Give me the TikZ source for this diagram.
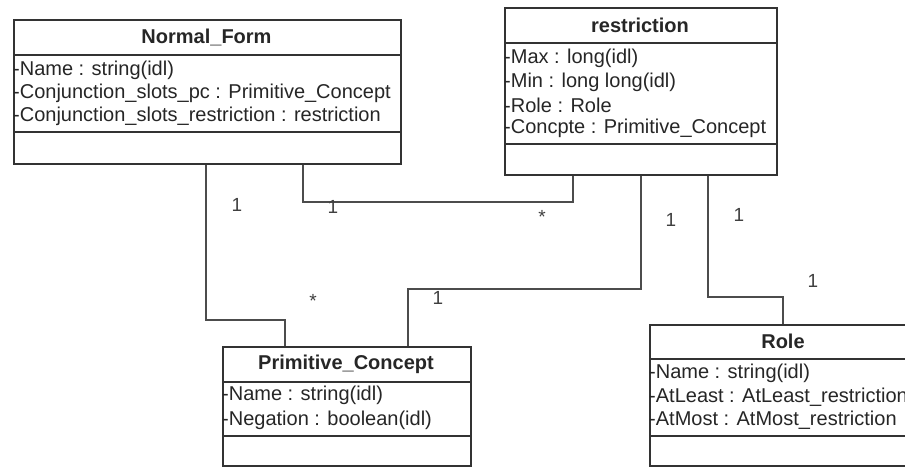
\documentclass[tikz,border=0pt]{standalone}
\usepackage{fontspec}
\setmainfont{Liberation Sans}
\tikzset{
  classbox/.style={draw=black!80, line width=1.5pt, rectangle, inner sep=0pt, anchor=north west},
  sepline/.style={draw=black!80, line width=1.5pt},
  conn/.style={draw=black!70, line width=1.5pt},
  ctitle/.style={font=\bfseries\fontsize{20}{23}\selectfont, text=black!85, inner sep=0pt},
  attr/.style={font=\fontsize{20}{23}\selectfont, text=black!85, inner sep=0pt, anchor=west},
  mult/.style={font=\fontsize{19}{22}\selectfont, text=black!75, inner sep=0pt},
}
\begin{document}
\begin{tikzpicture}[x=1pt, y=-1pt]
\useasboundingbox (0,0) rectangle (905,467);
\clip (0,0) rectangle (905,467);
\fill[white] (0,0) rectangle (905,467);

% Normal_Form
\node[classbox, minimum width=387pt, minimum height=144pt] (nf) at (13,19) {};
\draw[sepline] (nf.west |- 0,55) -- (nf.east |- 0,55);
\draw[sepline] (nf.west |- 0,132) -- (nf.east |- 0,132);
\node[ctitle] (nft) at (206.5,37) {Normal\_Form};
\node[attr] (nfa1) at (13,70) {-Name : string(idl)};
\node[attr] (nfa2) at (13,93) {-Conjunction\_slots\_pc : Primitive\_Concept};
\node[attr] (nfa3) at (13,116) {-Conjunction\_slots\_restriction : restriction};

% restriction
\node[classbox, minimum width=272pt, minimum height=167pt] (rs) at (504,7) {};
\draw[sepline] (rs.west |- 0,43) -- (rs.east |- 0,43);
\draw[sepline] (rs.west |- 0,144) -- (rs.east |- 0,144);
\node[ctitle] (rst) at (640,25) {restriction};
\node[attr] (rsa1) at (504,58.5) {-Max : long(idl)};
\node[attr] (rsa2) at (504,82) {-Min : long long(idl)};
\node[attr] (rsa3) at (504,105) {-Role : Role};
\node[attr] (rsa4) at (504,128) {-Concpte : Primitive\_Concept};

% Primitive_Concept
\node[classbox, minimum width=248pt, minimum height=119pt] (pc) at (222,346) {};
\draw[sepline] (pc.west |- 0,382) -- (pc.east |- 0,382);
\draw[sepline] (pc.west |- 0,436) -- (pc.east |- 0,436);
\node[ctitle] (pct) at (346,364) {Primitive\_Concept};
\node[attr] (pca1) at (222,395) {-Name : string(idl)};
\node[attr] (pca2) at (222,420) {-Negation : boolean(idl)};

% Role
\node[classbox, minimum width=275pt, minimum height=141pt] (ro) at (649,324) {};
\draw[sepline] (ro.west |- 0,359) -- (ro.east |- 0,359);
\draw[sepline] (ro.west |- 0,436) -- (ro.east |- 0,436);
\node[ctitle] (rot) at (783,341) {Role};
\node[attr] (roa1) at (649,373) {-Name : string(idl)};
\node[attr] (roa2) at (649,397) {-AtLeast : AtLeast\_restriction};
\node[attr] (roa3) at (649,420) {-AtMost : AtMost\_restriction};

% bend points
\coordinate (p1) at (206,320);
\coordinate (p2) at (285,320);
\coordinate (p3) at (303,202);
\coordinate (p4) at (573,202);
\coordinate (p5) at (641,289);
\coordinate (p6) at (408,289);
\coordinate (p7) at (708,297);
\coordinate (p8) at (783,297);

% connectors
\draw[conn] (nf.south -| p1) -- (p1) -- (p2) -- (pc.north -| p2);
\draw[conn] (nf.south -| p3) -- (p3) -- (p4) -- (rs.south -| p4);
\draw[conn] (rs.south -| p5) -- (p5) -- (p6) -- (pc.north -| p6);
\draw[conn] (rs.south -| p7) -- (p7) -- (p8) -- (ro.north -| p8);

% multiplicities
\node[mult] (m1) at (237,205) {1};
\node[mult] (m2) at (333,207) {1};
\node[mult] (m3) at (542,217) {*};
\node[mult] (m4) at (313,301) {*};
\node[mult] (m5) at (438,298) {1};
\node[mult] (m6) at (671,220) {1};
\node[mult] (m7) at (739,215) {1};
\node[mult] (m8) at (813,281) {1};
\end{tikzpicture}
\end{document}
